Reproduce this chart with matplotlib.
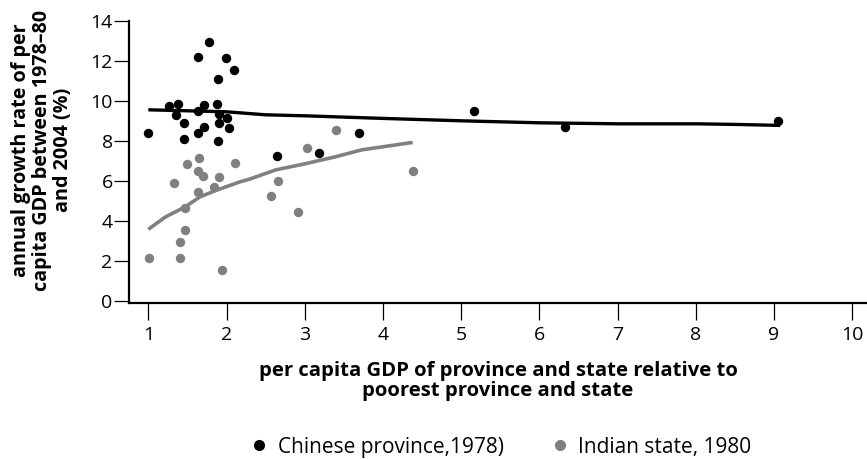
import matplotlib.pyplot as plt
from matplotlib.lines import Line2D

plt.rcParams['font.family'] = ['Open Sans', 'DejaVu Sans']

# Chinese provinces (1978 base)
china_x = [1.0, 1.27, 1.38, 1.36, 1.46, 1.46, 1.63, 1.63, 1.63, 1.71, 1.71, 1.78,
           1.88, 1.89, 1.89, 1.91, 1.90, 1.99, 2.01, 2.03, 2.09, 2.64, 3.18, 3.69,
           5.16, 6.33, 9.05]
china_y = [8.4, 9.75, 9.85, 9.3, 8.9, 8.1, 12.2, 9.5, 8.4, 9.8, 8.7, 12.95,
           9.85, 11.1, 8.0, 9.35, 8.9, 12.15, 9.15, 8.65, 11.55, 7.25, 7.4, 8.4,
           9.5, 8.7, 9.0]

# Indian states (1980 base)
india_x = [1.01, 1.33, 1.40, 1.41, 1.47, 1.47, 1.50, 1.63, 1.63, 1.65, 1.70,
           1.84, 1.90, 1.94, 2.11, 2.57, 2.66, 2.91, 3.03, 3.40, 4.38]
india_y = [2.15, 5.9, 2.95, 2.15, 3.55, 4.65, 6.85, 5.45, 6.5, 7.15, 6.25,
           5.7, 6.2, 1.55, 6.9, 5.25, 6.0, 4.45, 7.65, 8.55, 6.5]

# fitted trends
china_fit_x = [1.0, 1.5, 2.0, 2.5, 3.0, 4.0, 5.0, 6.0, 7.0, 8.0, 8.5, 9.08]
china_fit_y = [9.55, 9.5, 9.45, 9.3, 9.25, 9.12, 9.0, 8.9, 8.85, 8.85, 8.82, 8.77]
india_fit_x = [1.0, 1.22, 1.47, 1.66, 1.85, 2.17, 2.29, 2.63, 3.0, 3.39, 3.73, 4.38]
india_fit_y = [3.58, 4.2, 4.7, 5.2, 5.5, 5.95, 6.08, 6.55, 6.85, 7.2, 7.55, 7.92]

x_ticks = list(range(1, 11))
y_ticks = list(range(0, 15, 2))

black = '#000000'
grey = '#808080'

fig = plt.figure(figsize=(8.67, 4.59), dpi=100)
ax = fig.add_axes([129.3 / 867, 1 - 302.7 / 459, 1 - 129.3 / 867, (302.7 - 20.7) / 459])

ax.plot(china_fit_x, china_fit_y, color=black, lw=2.4, solid_capstyle='butt', zorder=2)
ax.plot(india_fit_x, india_fit_y, color=grey, lw=2.6, solid_capstyle='butt', zorder=2)
ax.scatter(china_x, china_y, s=46, color=black, lw=0, zorder=3)
ax.scatter(india_x, india_y, s=46, color=grey, lw=0, zorder=3)

ax.set_xlim(0.757, 10.19)
ax.set_ylim(-0.085, 14)
ax.set_xticks(x_ticks)
ax.set_yticks(y_ticks)

for side in ['top', 'right']:
    ax.spines[side].set_visible(False)
for side in ['left', 'bottom']:
    ax.spines[side].set_linewidth(1.6)
ax.tick_params(axis='both', direction='out', width=0.9, labelsize=14)
ax.tick_params(axis='x', length=12, pad=5)
ax.tick_params(axis='y', length=11, pad=1)

fig.text(498 / 867, 1 - 381 / 459, 'per capita GDP of province and state relative to\npoorest province and state',
         ha='center', va='center', multialignment='center',
         fontsize=14.6, fontweight='bold', linespacing=1.05)
fig.text(42 / 867, 1 - 150 / 459, 'annual growth rate of per\ncapita GDP between 1978\u201380\nand 2004 (%)',
         rotation=90, ha='center', va='center', multialignment='center',
         fontsize=14.2, fontweight='bold', linespacing=1.05)

handles = [
    Line2D([], [], ls='none', marker='o', ms=7, color=black, label='Chinese province,1978)'),
    Line2D([], [], ls='none', marker='o', ms=7, color=grey, label='Indian state, 1980'),
]
fig.legend(handles=handles, loc='center', bbox_to_anchor=(500 / 867, 1 - 447 / 459), ncol=2,
           frameon=False, fontsize=15, handletextpad=0.37, columnspacing=2.2, handlelength=1,
           borderpad=0, borderaxespad=0)

fig.savefig('out.png', dpi=100)
